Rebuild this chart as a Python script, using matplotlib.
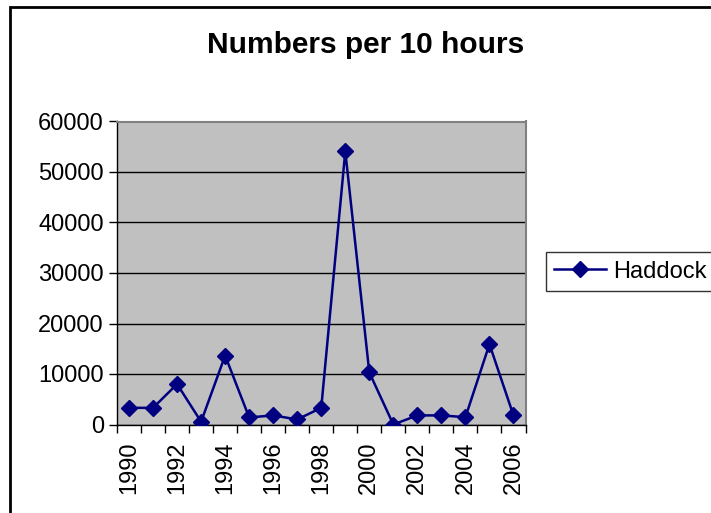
import numpy as np
import matplotlib
matplotlib.use('Agg')
import matplotlib.pyplot as plt
from matplotlib.patches import Rectangle

plt.rcParams['font.family'] = ['Liberation Sans', 'DejaVu Sans']

years = list(range(1990, 2007))
haddock = [3300, 3300, 8000, 550, 13650, 1400, 1800, 1000, 3300, 54100,
           10300, 0, 1800, 1800, 1450, 15900, 1800]
y_ticks = [0, 10000, 20000, 30000, 40000, 50000, 60000]

W, H = 711, 513
fig = plt.figure(figsize=(W / 100, H / 100), dpi=100)
ax = fig.add_axes([117 / W, 1 - 424.5 / H, (525.5 - 117) / W, (424.5 - 121.5) / H])

x = np.arange(len(years))
ax.plot(x, haddock, color='#000080', lw=1.8, marker='D', markersize=8,
        label='Haddock', zorder=3)

ax.set_facecolor('#c0c0c0')
ax.set_xlim(-0.5, len(years) - 0.5)
ax.set_ylim(0, 60000)
ax.set_yticks(y_ticks)
ax.set_yticklabels([str(v) for v in y_ticks], fontsize=17)
ax.yaxis.grid(True, color='black', lw=1)
ax.set_axisbelow(True)

# tick marks between categories, labels on every other category
ax.set_xticks(np.arange(-0.5, len(years), 1.0))
ax.set_xticklabels([])
ax.set_xticks(x[::2], minor=True)
ax.set_xticklabels([str(y) for y in years[::2]], minor=True,
                   rotation=90, fontsize=17)
ax.tick_params(axis='x', which='minor', length=0, pad=12)
ax.tick_params(axis='both', which='major', length=6, width=1, color='black',
               direction='out')

for s in ['top', 'right']:
    ax.spines[s].set_color('#808080')
    ax.spines[s].set_linewidth(1.5)
for s in ['left', 'bottom']:
    ax.spines[s].set_color('black')
    ax.spines[s].set_linewidth(1)

fig.text(366 / W, 1 - 45 / H, 'Numbers per 10 hours', fontsize=21.5,
         fontweight='bold', ha='center', va='center')

leg = fig.legend(loc='center left', bbox_to_anchor=(546 / W, 1 - 271.5 / H),
                 fontsize=17, frameon=True, fancybox=False, edgecolor='black',
                 handlelength=2.2, borderpad=0.35, handletextpad=0.3,
                 borderaxespad=0)
leg.get_frame().set_linewidth(1)

fig.patches.append(Rectangle((10 / W, -0.05), 1.0, 1 - 7 / H + 0.05,
                             transform=fig.transFigure, fill=False,
                             edgecolor='black', lw=2))

fig.savefig('out.png', dpi=100)
